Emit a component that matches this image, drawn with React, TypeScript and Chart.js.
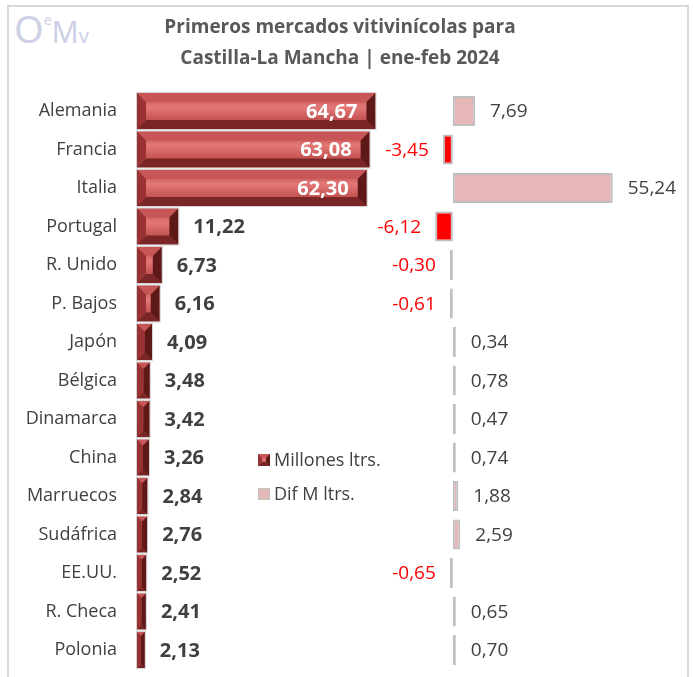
import React, { useEffect, useRef } from 'react';
import { Chart, registerables } from 'chart.js';

Chart.register(...registerables);

const categories = ['Alemania', 'Francia', 'Italia', 'Portugal', 'R. Unido', 'P. Bajos', 'Japón', 'Bélgica', 'Dinamarca', 'China', 'Marruecos', 'Sudáfrica', 'EE.UU.', 'R. Checa', 'Polonia'];
const millonesLtrs = [64.67, 63.08, 62.30, 11.22, 6.73, 6.16, 4.09, 3.48, 3.42, 3.26, 2.84, 2.76, 2.52, 2.41, 2.13];
const difMLtrs = [7.69, -3.45, 55.24, -6.12, -0.30, -0.61, 0.34, 0.78, 0.47, 0.74, 1.88, 2.59, -0.65, 0.65, 0.70];
const seriesLabels = ['Millones ltrs.', 'Dif M ltrs.'];
const titleLines = ['Primeros mercados vitivinícolas para', 'Castilla-La Mancha | ene-feb 2024'];

const FONT = "'Open Sans', 'Noto Sans', sans-serif";
const fmt = (v: number) => v.toFixed(2).replace('.', ',');

function poly(ctx: CanvasRenderingContext2D, pts: number[][], color: string) {
  ctx.beginPath();
  ctx.moveTo(pts[0][0], pts[0][1]);
  for (let i = 1; i < pts.length; i++) ctx.lineTo(pts[i][0], pts[i][1]);
  ctx.closePath();
  ctx.fillStyle = color;
  ctx.fill();
}

function drawBevel(ctx: CanvasRenderingContext2D, left: number, top: number, right: number, bottom: number, bevelMax: number, outline: boolean) {
  const w = right - left;
  const h = bottom - top;
  if (w <= 0 || h <= 0) return;
  const b = Math.max(0, Math.min(bevelMax, w / 2, h / 2));
  const g = ctx.createLinearGradient(0, top, 0, bottom);
  g.addColorStop(0, '#b04040');
  g.addColorStop(0.38, '#e47878');
  g.addColorStop(0.6, '#d26262');
  g.addColorStop(1, '#a83838');
  ctx.fillStyle = g;
  ctx.fillRect(left, top, w, h);
  poly(ctx, [[left, top], [right, top], [right - b, top + b], [left + b, top + b]], '#c85656');
  poly(ctx, [[left, bottom], [right, bottom], [right - b, bottom - b], [left + b, bottom - b]], '#7a2626');
  poly(ctx, [[left, top], [left + b, top + b], [left + b, bottom - b], [left, bottom]], '#993333');
  poly(ctx, [[right, top], [right - b, top + b], [right - b, bottom - b], [right, bottom]], '#5e1818');
  if (outline) {
    ctx.strokeStyle = '#d4d4d4';
    ctx.lineWidth = 1;
    ctx.strokeRect(left - 0.5, top - 0.5, w + 1, h + 1);
  }
}

const customPlugin = {
  id: 'customDraw',
  afterDatasetsDraw(chart: any) {
    const ctx: CanvasRenderingContext2D = chart.ctx;
    ctx.save();
    const meta0 = chart.getDatasetMeta(0);
    meta0.data.forEach((el: any) => {
      const p = el.getProps(['x', 'y', 'base', 'height'], true);
      const left = Math.min(p.x, p.base);
      const right = Math.max(p.x, p.base);
      drawBevel(ctx, left, p.y - p.height / 2, right, p.y + p.height / 2, 9, true);
    });
    ctx.textBaseline = 'middle';
    meta0.data.forEach((el: any, i: number) => {
      const p = el.getProps(['x', 'y', 'base'], true);
      const v = millonesLtrs[i];
      ctx.font = `bold 20px ${FONT}`;
      if (v > 30) {
        ctx.fillStyle = '#ffffff';
        ctx.textAlign = 'right';
        ctx.fillText(fmt(v), p.x - 18, p.y + 1);
      } else {
        ctx.fillStyle = '#404040';
        ctx.textAlign = 'left';
        ctx.fillText(fmt(v), p.x + 15, p.y + 1);
      }
    });
    const meta1 = chart.getDatasetMeta(1);
    meta1.data.forEach((el: any, i: number) => {
      const p = el.getProps(['x', 'y', 'base'], true);
      const v = difMLtrs[i];
      ctx.font = `19px ${FONT}`;
      if (v >= 0) {
        ctx.fillStyle = '#404040';
        ctx.textAlign = 'left';
        ctx.fillText(fmt(v), Math.max(p.x, p.base) + 15, p.y + 1);
      } else {
        ctx.fillStyle = '#ff0000';
        ctx.textAlign = 'right';
        ctx.fillText(fmt(v), Math.min(p.x, p.base) - 14, p.y + 1);
      }
    });
    // legend
    const lx = 258;
    const ly = [460, 494];
    drawBevel(ctx, lx, ly[0] - 6, lx + 12, ly[0] + 6, 4, false);
    ctx.fillStyle = '#e6b9b8';
    ctx.fillRect(lx, ly[1] - 6, 12, 12);
    ctx.strokeStyle = '#bfbfbf';
    ctx.lineWidth = 1;
    ctx.strokeRect(lx + 0.5, ly[1] - 5.5, 11, 11);
    ctx.font = `18px ${FONT}`;
    ctx.fillStyle = '#404040';
    ctx.textAlign = 'left';
    chart.data.datasets.forEach((ds: any, i: number) => {
      ctx.fillText(ds.label, lx + 16, ly[i] + 1);
    });
    ctx.restore();
  },
};

export default function App() {
  const canvasRef = useRef<HTMLCanvasElement | null>(null);

  useEffect(() => {
    if (!canvasRef.current) return;
    const chart = new Chart(canvasRef.current, {
      type: 'bar',
      data: {
        labels: categories,
        datasets: [
          {
            label: seriesLabels[0],
            data: millonesLtrs,
            xAxisID: 'x1',
            yAxisID: 'y',
            backgroundColor: '#b84545',
            borderWidth: 0,
            barPercentage: 0.935,
            categoryPercentage: 1,
            grouped: false,
          } as any,
          {
            label: seriesLabels[1],
            data: difMLtrs,
            xAxisID: 'x2',
            yAxisID: 'y',
            backgroundColor: (c: any) => ((c.raw ?? 0) >= 0 ? '#e6b9b8' : '#ff0000'),
            borderColor: '#bfbfbf',
            borderWidth: 2,
            borderSkipped: false,
            barPercentage: 0.78,
            categoryPercentage: 1,
            grouped: false,
            minBarLength: 3,
          } as any,
        ],
      },
      options: {
        indexAxis: 'y',
        animation: false,
        responsive: true,
        maintainAspectRatio: false,
        layout: { padding: { left: 0, right: 14, top: 0, bottom: 7.75 } },
        plugins: {
          legend: { display: false },
          tooltip: { enabled: false },
          title: {
            display: true,
            text: titleLines,
            color: '#595959',
            font: { family: FONT, size: 19, weight: 'bold', lineHeight: 1.65 },
            padding: { top: 11.75, bottom: 17.3 },
          },
        },
        scales: {
          y: {
            type: 'category',
            position: 'left',
            grid: { display: false, drawTicks: false },
            border: { display: false },
            ticks: { color: '#404040', font: { family: FONT, size: 18 }, padding: 20 },
            afterFit: (s: any) => {
              s.width = 137;
              s.paddingTop = 0;
              s.paddingBottom = 0;
            },
          },
          x1: {
            type: 'linear',
            position: 'bottom',
            min: 0,
            max: 80,
            display: false,
            stack: 'x',
            stackWeight: 295,
          },
          x2: {
            type: 'linear',
            position: 'bottom',
            min: -7.2,
            max: 78.5,
            display: false,
            stack: 'x',
            stackWeight: 248,
          },
        } as any,
      },
      plugins: [customPlugin],
    });
    return () => chart.destroy();
  }, []);

  return (
    <div style={{ position: 'fixed', left: 0, top: 0, width: 694, height: 677, background: '#ffffff', overflow: 'hidden' }}>
      <div
        style={{
          position: 'absolute',
          left: 7,
          top: 5,
          width: 682,
          height: 690,
          border: '2px solid #d9d9d9',
          boxSizing: 'border-box',
        }}
      />
      <div
        style={{
          position: 'absolute',
          left: 14,
          top: 9,
          color: '#cdd0e6',
          fontFamily: "'Noto Sans', sans-serif",
          lineHeight: 1,
          whiteSpace: 'nowrap',
        }}
      >
        <span style={{ fontSize: 38 }}>O</span>
        <span style={{ fontSize: 14, verticalAlign: 'top', position: 'relative', top: 4 }}>e</span>
        <span style={{ fontSize: 30 }}>M</span>
        <span style={{ fontSize: 20 }}>v</span>
      </div>
      <canvas ref={canvasRef} style={{ position: 'absolute', left: 0, top: 0 }} />
    </div>
  );
}
